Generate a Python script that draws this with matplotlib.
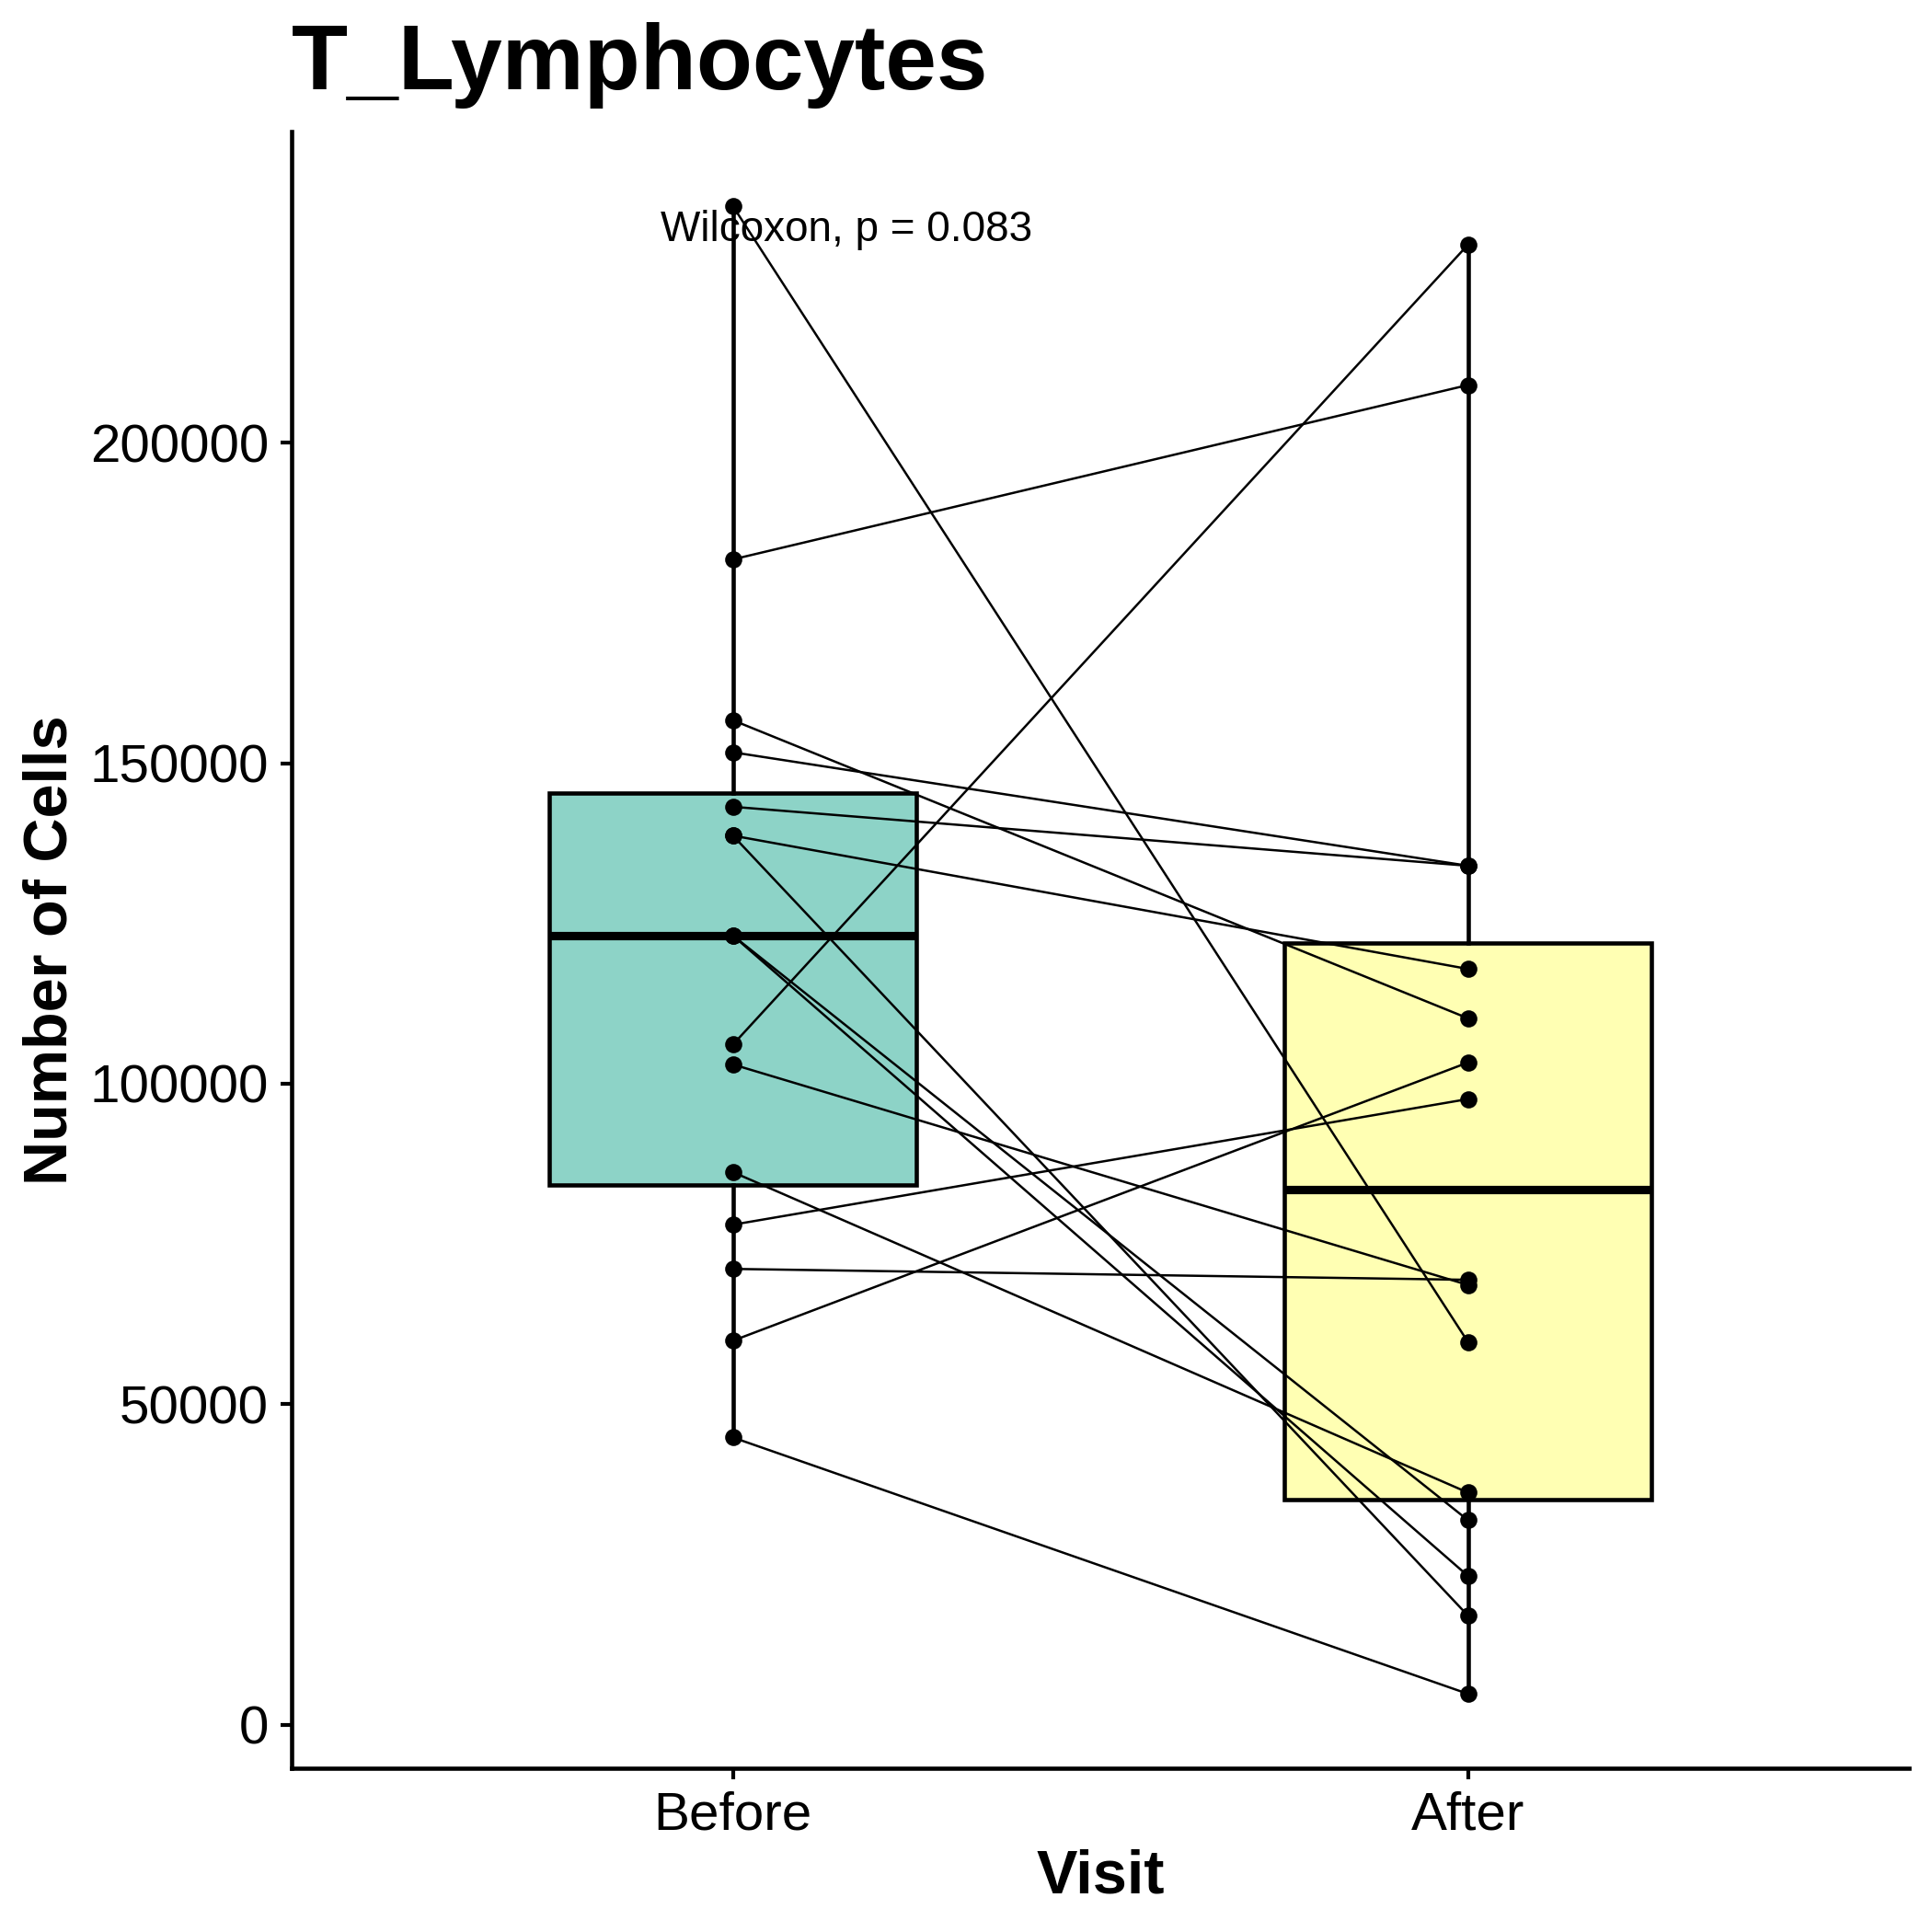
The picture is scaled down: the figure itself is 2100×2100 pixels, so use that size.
import matplotlib
matplotlib.use("Agg")
import matplotlib.pyplot as plt
import numpy as np

plt.rcParams['font.family'] = ['Liberation Sans', 'DejaVu Sans']

# ---- data ----
visits = ["Before", "After"]
before_vals = [236900, 181800, 156700, 151700, 143200, 138700, 138700, 123100,
               123100, 106100, 103000, 86200, 78000, 71100, 59900, 44800]
after_vals = [59700, 209000, 110200, 134000, 134000, 117900, 17000, 31900,
              23200, 230900, 68600, 36200, 97600, 69400, 103300, 4800]
box_colors = ["#8DD3C7", "#FFFFB3"]
y_ticks = [0, 50000, 100000, 150000, 200000]
title = "T_Lymphocytes"
annotation = "Wilcoxon, p = 0.083"

W, H = 2100, 2100
fig = plt.figure(figsize=(7, 7), dpi=300)
ax = fig.add_axes([317.3 / W, (H - 1922) / H, (2075 - 317.3) / W, (1922 - 143.3) / H])

positions = [1, 2]
data = [before_vals, after_vals]
bp = ax.boxplot(data, positions=positions, widths=0.5, patch_artist=True,
                showcaps=False, showfliers=False, whis=1.5,
                medianprops=dict(color='black', linewidth=2.2),
                boxprops=dict(edgecolor='black', linewidth=1.1),
                whiskerprops=dict(color='black', linewidth=1.1),
                zorder=1)
for patch, c in zip(bp['boxes'], box_colors):
    patch.set_facecolor(c)

# paired lines
for b, a in zip(before_vals, after_vals):
    ax.plot(positions, [b, a], color='black', linewidth=0.6, zorder=3)
# points
ax.scatter([positions[0]] * len(before_vals), before_vals, s=20, color='black', zorder=4, linewidths=0)
ax.scatter([positions[1]] * len(after_vals), after_vals, s=20, color='black', zorder=4, linewidths=0)

ax.text(0.902, 231400, annotation, ha='left', va='baseline', fontsize=11.0, zorder=5)

allv = np.array(before_vals + after_vals)
rng = allv.max() - allv.min()
ax.set_ylim(allv.min() - 0.05 * rng, allv.max() + 0.05 * rng)
ax.set_xlim(0.4, 2.6)

ax.set_xticks(positions)
ax.set_xticklabels(visits)
ax.set_yticks(y_ticks)
ax.set_yticklabels([str(t) for t in y_ticks])
ax.tick_params(axis='both', labelsize=14, length=2.9, width=1.0, color='black', labelcolor='black')
ax.tick_params(axis='y', pad=3.2)
ax.tick_params(axis='x', pad=2.9)

for s in ['top', 'right']:
    ax.spines[s].set_visible(False)
for s in ['left', 'bottom']:
    ax.spines[s].set_linewidth(1.1)

xl = ax.set_xlabel("Visit", fontsize=16, fontweight='bold')
xl.set_va('baseline')
ax.xaxis.set_label_coords(0.5, (1922 - 2058) / (1922 - 143.3))
yl = ax.set_ylabel("Number of Cells", fontsize=16, fontweight='bold', rotation=90,
                   rotation_mode='anchor')
yl.set_va('baseline')
yl.set_ha('center')
ax.yaxis.set_label_coords((73 - 317.3) / (2075 - 317.3), 0.5)

fig.text(317.3 / W, 1 - 97 / H, title, fontsize=24, fontweight='bold',
         ha='left', va='baseline')

fig.savefig("out.png", dpi=300, facecolor='white')
